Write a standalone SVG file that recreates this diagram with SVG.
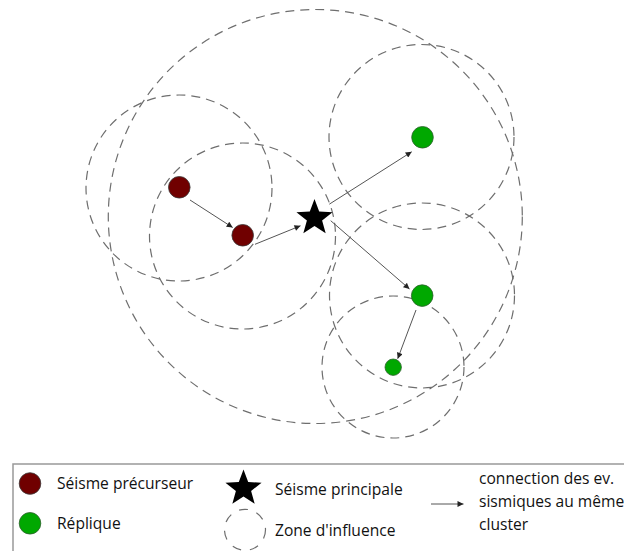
<svg xmlns="http://www.w3.org/2000/svg" width="624" height="551" viewBox="0 0 624 551">
<style>
.zone{fill:none;stroke:#6e6e6e;stroke-width:1.2;stroke-dasharray:9 6}
.zone-legend{fill:none;stroke:#6e6e6e;stroke-width:1.2;stroke-dasharray:9 9}
.pre{fill:#700000;stroke:#3a3a3a;stroke-width:0.8}
.rep{fill:#00a800;stroke:#2f5f2f;stroke-width:0.8}
.link{fill:none;stroke:#555;stroke-width:1;marker-end:url(#ah)}
.lbl{font-family:"Open Sans","Liberation Sans",sans-serif;font-size:15.6px;fill:#111}
</style>
<defs>
<marker id="ah" viewBox="0 0 10 10" refX="10" refY="5" markerWidth="7" markerHeight="6" markerUnits="userSpaceOnUse" orient="auto">
<path d="M0,0 L10,5 L0,10 z" fill="#222"/>
</marker>
<path id="star" d="M0,-19 L4.702,-6.472 L18.07,-5.871 L7.609,2.472 L11.168,15.371 L0,8 L-11.168,15.371 L-7.609,2.472 L-18.07,-5.871 L-4.702,-6.472 Z" fill="#000"/>
</defs>
<rect width="624" height="551" fill="#fff"/>
<g id="zones">
<circle id="zone-main" class="zone" cx="315.3" cy="216.5" r="207"/>
<circle id="zone-pre1" class="zone" cx="179" cy="188" r="93"/>
<circle id="zone-pre2" class="zone" cx="242.5" cy="236" r="93"/>
<circle id="zone-rep1" class="zone" cx="421.5" cy="137" r="92.5"/>
<circle id="zone-rep2" class="zone" cx="422" cy="295.5" r="92.5"/>
<circle id="zone-rep3" class="zone" cx="393" cy="367" r="71"/>
</g>
<g id="connectors">
<line class="link" x1="190" y1="200" x2="232.7" y2="227.5"/>
<line class="link" x1="255" y1="244.3" x2="300.5" y2="225.8"/>
<line class="link" x1="329.3" y1="204.2" x2="411.7" y2="151.8"/>
<line class="link" x1="330.7" y1="220.7" x2="409.5" y2="289"/>
<line class="link" x1="416" y1="310" x2="397.7" y2="358.7"/>
</g>
<g id="pre1"><circle class="pre" cx="179.3" cy="187.3" r="10.8"/></g>
<g id="pre2"><circle class="pre" cx="242.7" cy="235.3" r="10.8"/></g>
<g id="main"><use href="#star" x="314.5" y="218"/></g>
<g id="rep1"><circle class="rep" cx="422.5" cy="137.3" r="10.8"/></g>
<g id="rep2"><circle class="rep" cx="422.2" cy="295.6" r="10.8"/></g>
<g id="rep3"><circle class="rep" cx="393.2" cy="367.2" r="8.2"/></g>
<g id="legend">
<rect x="13" y="464" width="640" height="120" fill="none" stroke="#999" stroke-width="1.5"/>
<circle class="pre" cx="30" cy="483.5" r="10.8"/>
<text class="lbl" x="57" y="489">Séisme précurseur</text>
<circle class="rep" cx="30" cy="523.3" r="10.8"/>
<text class="lbl" x="57" y="529">Réplique</text>
<use href="#star" x="243.5" y="488.5"/>
<text class="lbl" x="275" y="494.5">Séisme principale</text>
<circle class="zone-legend" cx="245" cy="529.8" r="20.5"/>
<text class="lbl" x="275" y="535.5">Zone d'influence</text>
<line class="link" x1="431" y1="504" x2="463.5" y2="504"/>
<text class="lbl" x="479" y="484">connection des ev.</text>
<text class="lbl" x="479" y="507">sismiques au même</text>
<text class="lbl" x="479" y="530">cluster</text>
</g>
</svg>
